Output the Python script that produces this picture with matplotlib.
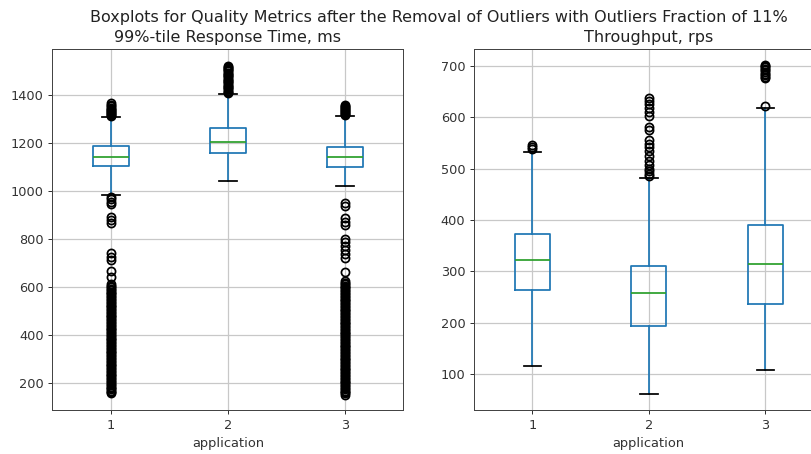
import matplotlib
matplotlib.use('Agg')
import matplotlib.pyplot as plt

# box statistics per application, read from the quality metrics after outlier removal
applications = [1, 2, 3]

# 99%-tile response time, ms
resp_q1 = [1104, 1159, 1098]
resp_med = [1142, 1205, 1142]
resp_q3 = [1187, 1261, 1182]
resp_whislo = [981, 1042, 1020]
resp_whishi = [1309, 1405, 1312]
resp_fliers_1 = [1314, 1318, 1322, 1326, 1330, 1334, 1338, 1342, 1347, 1352, 1358, 1366,
                 975, 966, 955, 946, 890, 878, 866, 740, 723, 712, 665, 641, 612,
                 604, 598, 592, 586, 580, 574, 568, 562, 556, 550, 544, 538, 532, 526,
                 520, 514, 508, 502, 496, 490, 484, 478, 472, 466, 460, 454, 448, 442,
                 436, 430, 424, 418, 412, 406, 400, 394, 388, 382, 376, 370, 364, 358,
                 352, 346, 340, 334, 328, 322, 316, 310, 304, 298, 292, 286, 280, 274,
                 268, 262, 256, 250, 244, 238, 232, 226, 220, 214, 208, 202, 196, 190,
                 184, 178, 172, 166, 160, 155]
resp_fliers_2 = [1408, 1413, 1418, 1423, 1428, 1433, 1438, 1443, 1448, 1453, 1458,
                 1463, 1468, 1473, 1478, 1483, 1488, 1493, 1498, 1503, 1508, 1513,
                 1518, 1522]
resp_fliers_3 = [1316, 1320, 1324, 1328, 1332, 1336, 1340, 1344, 1349, 1354, 1360,
                 948, 935, 886, 872, 858, 800, 788, 772, 755, 735, 722, 662, 622,
                 617, 611, 605, 599, 593, 587, 581, 575, 569, 563, 557, 551, 545, 539,
                 533, 527, 521, 515, 509, 503, 497, 491, 485, 479, 473, 467, 461, 455,
                 449, 443, 437, 431, 425, 419, 413, 407, 401, 395, 389, 383, 377, 371,
                 365, 359, 353, 347, 341, 335, 329, 323, 317, 311, 305, 299, 293, 287,
                 281, 275, 269, 263, 257, 251, 245, 239, 233, 227, 221, 215, 209, 203,
                 197, 191, 185, 179, 173, 167, 161, 155, 150]

# throughput, rps
thr_q1 = [263, 193, 237]
thr_med = [323, 259, 315]
thr_q3 = [372, 310, 391]
thr_whislo = [116, 62, 108]
thr_whishi = [533, 482, 618]
thr_fliers_1 = [538, 542, 546]
thr_fliers_2 = [638, 632, 625, 618, 610, 602, 580, 575, 555, 548, 542, 535,
                525, 515, 508, 500, 495, 490, 485]
thr_fliers_3 = [621, 676, 679, 682, 685, 688, 691, 694, 697, 700, 702]


def make_stats(q1, med, q3, lo, hi, fliers):
    stats = []
    for i in range(len(med)):
        stats.append({'q1': q1[i], 'med': med[i], 'q3': q3[i],
                      'whislo': lo[i], 'whishi': hi[i], 'fliers': fliers[i]})
    return stats


resp_stats = make_stats(resp_q1, resp_med, resp_q3, resp_whislo, resp_whishi,
                        [resp_fliers_1, resp_fliers_2, resp_fliers_3])
thr_stats = make_stats(thr_q1, thr_med, thr_q3, thr_whislo, thr_whishi,
                       [thr_fliers_1, thr_fliers_2, thr_fliers_3])

lw = 1.4
box_props = dict(color='#1f77b4', linewidth=lw)
whisker_props = dict(color='#1f77b4', linewidth=lw)
median_props = dict(color='#2ca02c', linewidth=lw)
cap_props = dict(color='k', linewidth=lw)
flier_props = dict(marker='o', markerfacecolor='none', markeredgecolor='k',
                   markersize=6.5, markeredgewidth=1.4)

fig = plt.figure(figsize=(811 / 90, 454 / 90), dpi=90)
ax1 = fig.add_axes([0.0647, 0.0963, 0.4328, 0.795])
ax2 = fig.add_axes([0.5845, 0.0963, 0.431, 0.795])

for ax, stats, title, ylim in [(ax1, resp_stats, '99%-tile Response Time, ms', (85, 1590)),
                               (ax2, thr_stats, 'Throughput, rps', (30, 732))]:
    ax.bxp(stats, positions=applications, boxprops=box_props,
           whiskerprops=whisker_props, medianprops=median_props,
           capprops=cap_props, flierprops=flier_props)
    ax.set_xticks(applications)
    ax.set_xticklabels([str(a) for a in applications])
    ax.set_xlim(0.5, 3.5)
    ax.set_ylim(ylim)
    ax.grid(True, color='#c8c8c8', linewidth=1.0)
    ax.set_axisbelow(True)
    for sp in ax.spines.values():
        sp.set_color('#444444')
    ax.tick_params(colors='#333333', labelsize=10.3)
    ax.set_title(title, fontsize=12.8, color='#222222')
    ax.set_xlabel('application', fontsize=10.4, color='#333333')

fig.suptitle('Boxplots for Quality Metrics after the Removal of Outliers with Outliers Fraction of 11%',
             x=0.5407, y=0.978, fontsize=12.8, color='#222222')

fig.savefig('out.png', dpi=90)
